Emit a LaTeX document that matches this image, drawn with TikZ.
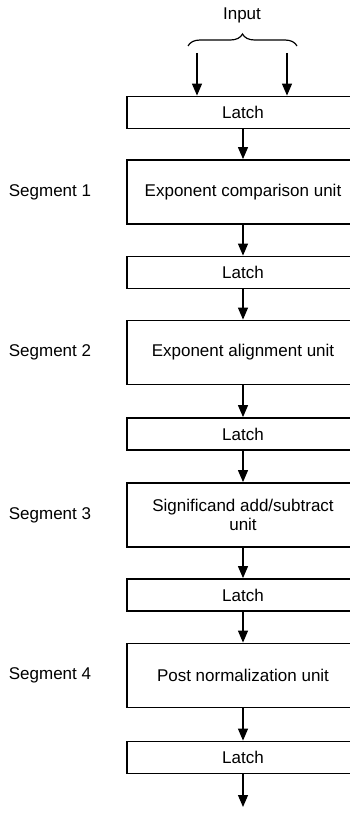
\documentclass[tikz,border=0pt]{standalone}
\usepackage{fontspec}
\setmainfont{Liberation Sans}
\usetikzlibrary{arrows.meta,decorations.pathreplacing}
\begin{document}
\begin{tikzpicture}[x=1pt,y=-1pt,
  box/.style={draw,line width=1.8pt,minimum width=232pt,inner sep=0pt,
    font=\fontsize{17}{19}\selectfont,align=center},
  latchbox/.style={box,minimum height=32pt},
  unitbox/.style={box,minimum height=64pt},
  seglabel/.style={font=\fontsize{17}{19}\selectfont},
  arr/.style={line width=1.2pt,-{Triangle[width=10pt,length=12pt]}}]
\useasboundingbox (0,0) rectangle (350,816);
\clip (0,0) rectangle (350,816);
\node[font=\fontsize{17}{19}\selectfont] (input) at (242,15) {Input};
\draw[line width=1.2pt,decorate,decoration={brace,amplitude=12pt}]
  (188,46) -- (297,46);
\node[latchbox] (L1) at (243,112.5) {Latch};
\node[unitbox] (S1) at (243,192) {Exponent comparison unit};
\node[latchbox] (L2) at (243,272.5) {Latch};
\node[unitbox] (S2) at (243,352.5) {Exponent alignment unit};
\node[latchbox] (L3) at (243,434) {Latch};
\node[unitbox] (S3) at (243,515) {Significand add/subtract\\unit};
\node[latchbox] (L4) at (243,595) {Latch};
\node[unitbox] (S4) at (243,675.5) {Post normalization unit};
\node[latchbox] (L5) at (243,757.5) {Latch};
\coordinate (inA) at (197,53);
\coordinate (inB) at (287,53);
\coordinate (out) at (243,807);
\node[seglabel] (g1) at (50,192) {Segment 1};
\node[seglabel] (g2) at (50,352.5) {Segment 2};
\node[seglabel] (g3) at (50,515) {Segment 3};
\node[seglabel] (g4) at (50,675.5) {Segment 4};
\draw[arr] (inA) -- (inA |- L1.north);
\draw[arr] (inB) -- (inB |- L1.north);
\draw[arr] (L1) -- (S1);
\draw[arr] (S1) -- (L2);
\draw[arr] (L2) -- (S2);
\draw[arr] (S2) -- (L3);
\draw[arr] (L3) -- (S3);
\draw[arr] (S3) -- (L4);
\draw[arr] (L4) -- (S4);
\draw[arr] (S4) -- (L5);
\draw[arr] (L5) -- (out);
\end{tikzpicture}
\end{document}
